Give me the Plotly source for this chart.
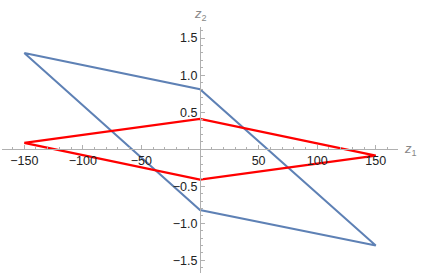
import plotly.graph_objects as go

# Data
blue_z1 = [-150, 0, 150, 0, -150]
blue_z2 = [1.30, 0.81, -1.30, -0.82, 1.30]
red_z1 = [-150, 0, 150, 0, -150]
red_z2 = [0.085, 0.41, -0.085, -0.41, 0.085]

x_tickvals = [-150, -100, -50, 50, 100, 150]
x_ticktext = ["\u2212150", "\u2212100", "\u221250", "50", "100", "150"]
y_tickvals = [-1.5, -1.0, -0.5, 0.5, 1.0, 1.5]
y_ticktext = ["\u22121.5", "\u22121.0", "\u22120.5", "0.5", "1.0", "1.5"]

xr = [-169, 169]
yr = [-1.67, 1.65]

fig = go.Figure()
fig.add_trace(go.Scatter(x=blue_z1, y=blue_z2, mode="lines",
                         line=dict(color="#5E81B5", width=2), showlegend=False))
fig.add_trace(go.Scatter(x=red_z1, y=red_z2, mode="lines",
                         line=dict(color="#FF0000", width=2.3), showlegend=False))

axis_color = "#b0b0b0"
fig.update_layout(
    width=425, height=275,
    margin=dict(l=2, r=27, t=27, b=2, autoexpand=False),
    paper_bgcolor="white", plot_bgcolor="white",
    font=dict(family="Liberation Sans, Arial, sans-serif", size=12.5, color="#222"),
    xaxis=dict(range=xr, anchor="free", position=(0 - yr[0]) / (yr[1] - yr[0]),
               automargin=False,
               showgrid=False, zeroline=False, showline=True, linecolor=axis_color, linewidth=1,
               tickvals=x_tickvals, ticktext=x_ticktext, ticks="inside", ticklen=4,
               tickcolor=axis_color,
               minor=dict(dtick=10, tick0=0, ticks="inside", ticklen=2, tickcolor=axis_color, showgrid=False)),
    yaxis=dict(range=yr, anchor="free", position=(0 - xr[0]) / (xr[1] - xr[0]),
               automargin=False,
               showgrid=False, zeroline=False, showline=True, linecolor=axis_color, linewidth=1,
               tickvals=y_tickvals, ticktext=y_ticktext, ticks="inside", ticklen=4,
               tickcolor=axis_color,
               minor=dict(dtick=0.1, tick0=0, ticks="inside", ticklen=2, tickcolor=axis_color, showgrid=False)),
    annotations=[
        dict(text="<i>z</i><sub>1</sub>", x=1.0, xref="paper", xanchor="left", xshift=4,
             y=0, yref="y", yanchor="middle", showarrow=False,
             font=dict(size=13, color="#888")),
        dict(text="<i>z</i><sub>2</sub>", x=0, xref="x", xanchor="center",
             y=1.0, yref="paper", yanchor="bottom", yshift=2, showarrow=False,
             font=dict(size=13, color="#888")),
    ],
)

fig.write_html("out.html", config={"displayModeBar": False},
               post_script="document.body.style.margin='0';document.body.style.padding='0';")
